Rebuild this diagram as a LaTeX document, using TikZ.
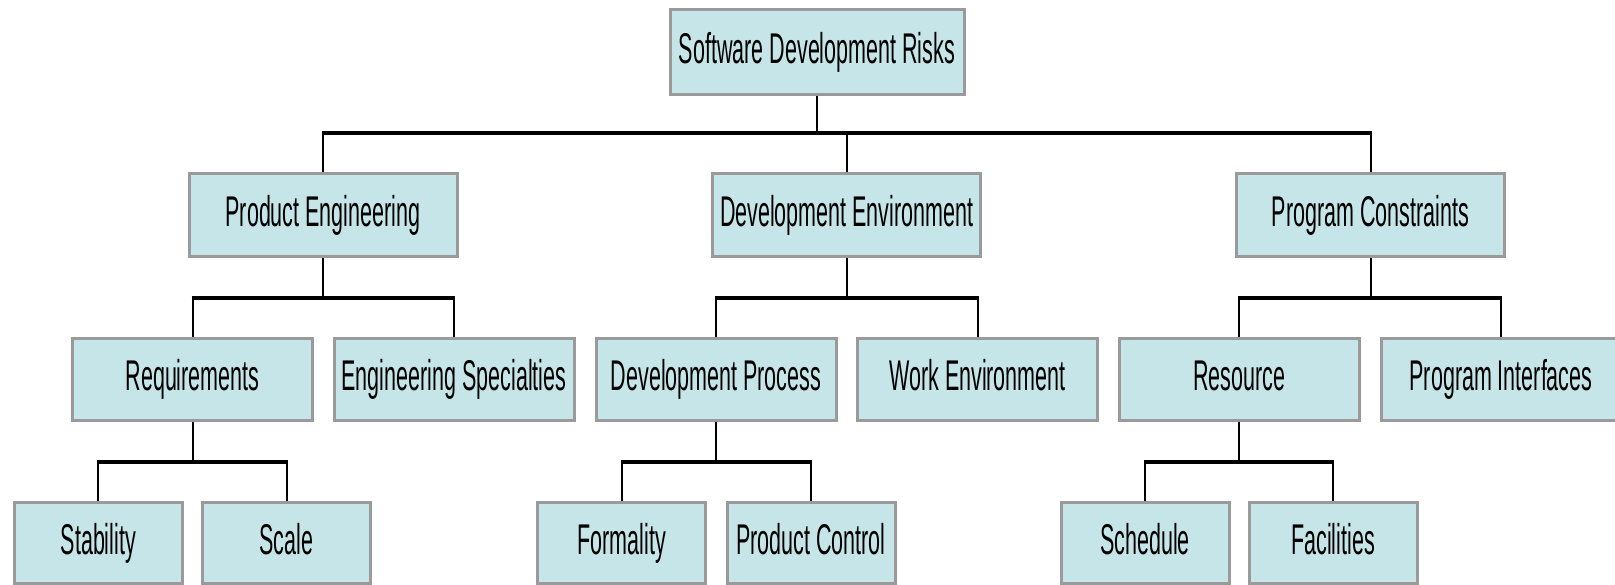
\documentclass[tikz,border=0pt]{standalone}
\usepackage{fontspec}
\setmainfont[FakeStretch=0.5]{Liberation Sans}
\definecolor{boxfill}{RGB}{198,229,232}
\definecolor{boxline}{RGB}{154,154,154}
\begin{document}
\begin{tikzpicture}[x=0.5pt,y=-0.5pt,
  box/.style={draw=boxline, fill=boxfill, line width=1.5pt, inner sep=0pt,
    text height=16pt, text depth=4.5pt,
    font=\fontsize{21.5}{24}\selectfont},
  lvA/.style={box, minimum width=147pt, minimum height=42.2pt},
  lvB/.style={box, minimum width=134pt, minimum height=41.3pt},
  lvC/.style={box, minimum width=120pt, minimum height=40.8pt},
  lvD/.style={box, minimum width=84pt, minimum height=40.5pt},
  vline/.style={line width=1pt},
  bar/.style={line width=2pt, shorten <=-0.5pt, shorten >=-0.5pt}]
\useasboundingbox (0,0) rectangle (1615,584);
\fill[white] (0,0) rectangle (1615,584);
% levels of the bars
\coordinate (bA) at (0,133);
\coordinate (bB) at (0,298);
\coordinate (bC) at (0,461.5);
% nodes
\node[lvA] (root) at (817,52) {Software Development Risks};
\node[lvB] (pe) at (323,215.25) {Product Engineering};
\node[lvB] (de) at (846.7,215.25) {Development Environment};
\node[lvB] (pc) at (1370.5,215.25) {Program Constraints};
\node[lvC] (req) at (192.5,379.25) {Requirements};
\node[lvC] (es) at (454,379.25) {Engineering Specialties};
\node[lvC] (dp) at (716,379.25) {Development Process};
\node[lvC] (we) at (977.5,379.25) {Work Environment};
\node[lvC] (res) at (1239,379.25) {Resource};
\node[lvC] (pi) at (1501,379.25) {Program Interfaces};
\node[lvD] (stab) at (98.4,543) {Stability};
\node[lvD] (scale) at (286.5,543) {Scale};
\node[lvD] (form) at (621.6,543) {Formality};
\node[lvD] (pctl) at (811,543) {Product Control};
\node[lvD] (sched) at (1145,543) {Schedule};
\node[lvD] (fac) at (1333,543) {Facilities};
% connectors level 0 -> 1
\draw[vline] (root.south) -- (root.south |- bA);
\draw[bar] (pe.north |- bA) -- (pc.north |- bA);
\foreach \c in {pe,de,pc} \draw[vline] (\c.north) -- (\c.north |- bA);
% level 1 -> 2
\draw[vline] (pe.south) -- (pe.south |- bB);
\draw[bar] (req.north |- bB) -- (es.north |- bB);
\draw[vline] (de.south) -- (de.south |- bB);
\draw[bar] (dp.north |- bB) -- (we.north |- bB);
\draw[vline] (pc.south) -- (pc.south |- bB);
\draw[bar] (res.north |- bB) -- (pi.north |- bB);
\foreach \c in {req,es,dp,we,res,pi} \draw[vline] (\c.north) -- (\c.north |- bB);
% level 2 -> 3
\draw[vline] (req.south) -- (req.south |- bC);
\draw[bar] (stab.north |- bC) -- (scale.north |- bC);
\draw[vline] (dp.south) -- (dp.south |- bC);
\draw[bar] (form.north |- bC) -- (pctl.north |- bC);
\draw[vline] (res.south) -- (res.south |- bC);
\draw[bar] (sched.north |- bC) -- (fac.north |- bC);
\foreach \c in {stab,scale,form,pctl,sched,fac} \draw[vline] (\c.north) -- (\c.north |- bC);
\end{tikzpicture}
\end{document}
